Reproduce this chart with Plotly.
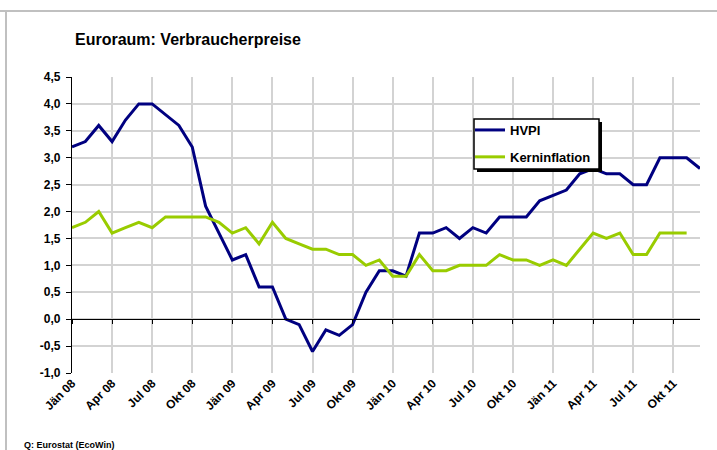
import plotly.graph_objects as go

months = ["Jän", "Feb", "Mär", "Apr", "Mai", "Jun", "Jul", "Aug", "Sep", "Okt", "Nov", "Dez"]
years = ["08", "09", "10", "11"]
categories = [f"{m} {y}" for y in years for m in months]

hvpi = [3.2, 3.3, 3.6, 3.3, 3.7, 4.0, 4.0, 3.8, 3.6, 3.2, 2.1, 1.6,
        1.1, 1.2, 0.6, 0.6, 0.0, -0.1, -0.6, -0.2, -0.3, -0.1, 0.5, 0.9,
        0.9, 0.8, 1.6, 1.6, 1.7, 1.5, 1.7, 1.6, 1.9, 1.9, 1.9, 2.2,
        2.3, 2.4, 2.7, 2.8, 2.7, 2.7, 2.5, 2.5, 3.0, 3.0, 3.0, 2.8]

kern = [1.7, 1.8, 2.0, 1.6, 1.7, 1.8, 1.7, 1.9, 1.9, 1.9, 1.9, 1.8,
        1.6, 1.7, 1.4, 1.8, 1.5, 1.4, 1.3, 1.3, 1.2, 1.2, 1.0, 1.1,
        0.8, 0.8, 1.2, 0.9, 0.9, 1.0, 1.0, 1.0, 1.2, 1.1, 1.1, 1.0,
        1.1, 1.0, 1.3, 1.6, 1.5, 1.6, 1.2, 1.2, 1.6, 1.6, 1.6]

tick_idx = list(range(0, 48, 3))
tick_text = ["<b>" + categories[i] + "</b>" for i in tick_idx]
y_ticks = [-1.0, -0.5, 0.0, 0.5, 1.0, 1.5, 2.0, 2.5, 3.0, 3.5, 4.0, 4.5]
y_text = ["<b>" + f"{v:.1f}".replace(".", ",") + "</b>" for v in y_ticks]

FONT = "Arial, Liberation Sans, sans-serif"
W, H = 717, 450
L, R, T, B = 72, 17, 77, 77
PW, PH = W - L - R, H - T - B

def px_x(x):
    return (x - L) / PW

def px_y(y):
    return (H - B - y) / PH

fig = go.Figure()
fig.add_trace(go.Scatter(x=list(range(len(hvpi))), y=hvpi, mode="lines", name="<b>HVPI</b>",
                         line=dict(color="#000080", width=3), legendgroup="a"))
fig.add_trace(go.Scatter(x=list(range(len(kern))), y=kern, mode="lines", name="<b>Kerninflation</b>",
                         line=dict(color="#99cc00", width=3), legendgroup="b"))
# helper trace so that the zero-line axis is drawn
fig.add_trace(go.Scatter(x=[0], y=[0], xaxis="x2", mode="lines", showlegend=False,
                         hoverinfo="skip", line=dict(width=0)))

fig.update_layout(
    width=W, height=H,
    margin=dict(l=L, r=R, t=T, b=B),
    paper_bgcolor="white", plot_bgcolor="white",
    font=dict(family=FONT, color="black"),
    showlegend=True,
    legend=dict(x=px_x(470), y=px_y(115), xanchor="left", yanchor="top",
                bgcolor="rgba(0,0,0,0)", borderwidth=0,
                font=dict(family=FONT, size=13, color="black"),
                traceorder="grouped", tracegroupgap=7, itemwidth=30),
    xaxis=dict(range=[0, 47], tickmode="array", tickvals=tick_idx, ticktext=tick_text,
               tickangle=-45, showgrid=True, gridcolor="#d3d3d3", gridwidth=1.5,
               zeroline=False, showline=False, ticks="",
               tickfont=dict(family=FONT, size=12, color="black")),
    xaxis2=dict(range=[0, 47], overlaying="x", anchor="free", position=1 / 5.5,
                tickmode="array", tickvals=tick_idx, showticklabels=False, showgrid=False,
                zeroline=False, showline=True, linecolor="black", linewidth=1.2,
                ticks="outside", ticklen=4, tickcolor="black", tickwidth=1.2),
    yaxis=dict(range=[-1.0, 4.5], tickmode="array", tickvals=y_ticks, ticktext=y_text,
               showgrid=True, gridcolor="#d3d3d3", gridwidth=1.5, zeroline=False,
               showline=True, linecolor="black", linewidth=1.2,
               ticks="outside", ticklen=5, tickcolor="black", tickwidth=1.2,
               ticklabelstandoff=3,
               tickfont=dict(family=FONT, size=12, color="black")),
    shapes=[
        dict(type="line", xref="paper", yref="paper", x0=px_x(0), x1=px_x(W), y0=px_y(11), y1=px_y(11),
             line=dict(color="#c0c0c0", width=2)),
        dict(type="line", xref="paper", yref="paper", x0=px_x(6), x1=px_x(6), y0=px_y(11), y1=px_y(H),
             line=dict(color="#c0c0c0", width=2)),
        # legend box shadow and frame
        dict(type="rect", xref="paper", yref="paper", x0=px_x(477), x1=px_x(602), y0=px_y(122), y1=px_y(172),
             fillcolor="black", line=dict(width=0), layer="above"),
        dict(type="rect", xref="paper", yref="paper", x0=px_x(474), x1=px_x(599), y0=px_y(119), y1=px_y(169),
             fillcolor="white", line=dict(color="black", width=1.5), layer="above"),
    ],
    annotations=[
        dict(text="<b>Euroraum: Verbraucherpreise</b>", xref="paper", yref="paper",
             x=px_x(73), y=px_y(39), xanchor="left", yanchor="middle", showarrow=False,
             font=dict(family=FONT, size=16, color="black")),
        dict(text="<b>Q: Eurostat (EcoWin)</b>", xref="paper", yref="paper",
             x=px_x(22), y=px_y(445), xanchor="left", yanchor="middle", showarrow=False,
             font=dict(family=FONT, size=9, color="black")),
    ],
)

fig.write_html("out.html", config={"displayModeBar": False},
               post_script="document.body.style.margin='0';document.body.style.overflow='hidden';")
